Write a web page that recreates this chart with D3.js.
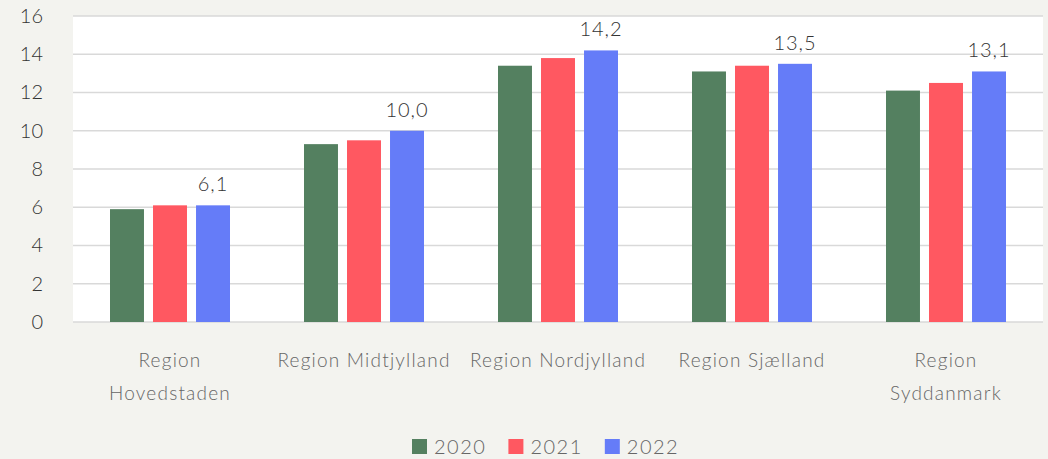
<!DOCTYPE html>
<html>
<head>
<meta charset="utf-8">
<script src="https://cdnjs.cloudflare.com/ajax/libs/d3/7.8.5/d3.min.js"></script>
<style>
  html, body { margin: 0; padding: 0; background: #f3f3ef; }
  svg { display: block; font-family: Lato, "Open Sans", sans-serif; }
</style>
</head>
<body>
<script>
// chart data
const regions = ["Region Hovedstaden", "Region Midtjylland", "Region Nordjylland", "Region Sjælland", "Region Syddanmark"];
const years = ["2020", "2021", "2022"];
const v2020 = [5.9, 9.3, 13.4, 13.1, 12.1];
const v2021 = [6.1, 9.5, 13.8, 13.4, 12.5];
const v2022 = [6.1, 10.0, 14.2, 13.5, 13.1];
const yTicks = [0, 2, 4, 6, 8, 10, 12, 14, 16];
// labels that Excel wrapped onto two lines
const wrapped = ["Region Hovedstaden", "Region Syddanmark"];

const colors = ["#548060", "#ff5861", "#657cf8"];
const series = [v2020, v2021, v2022];

const w = 1048, h = 459;
const padL = 73, padR = 1043, padT = 16, padB = 322;

const svg = d3.select("body").append("svg")
  .attr("width", w)
  .attr("height", h);

// white plot area
svg.append("rect")
  .attr("x", padL).attr("y", padT)
  .attr("width", padR - padL).attr("height", padB - padT)
  .attr("fill", "#ffffff");

const x0 = d3.scaleBand().domain(regions).range([padL, padR]);
const x1 = d3.scaleBand().domain(years).range([37, 194 - 37]).paddingInner(0.21);
const y = d3.scaleLinear().domain([0, 16]).range([padB, padT]);

// gridlines
svg.append("g")
  .selectAll("line")
  .data(yTicks)
  .enter()
  .append("line")
  .attr("x1", padL).attr("x2", padR)
  .attr("y1", d => y(d)).attr("y2", d => y(d))
  .attr("stroke", "#d9d9d9")
  .attr("stroke-width", 1.5);

// y axis labels
const yAxis = d3.axisLeft(y).tickValues(yTicks).tickSize(0).tickPadding(0);
svg.append("g")
  .attr("transform", "translate(43,0)")
  .call(yAxis)
  .call(g => g.select(".domain").remove())
  .call(g => g.selectAll("text")
    .attr("font-size", 20)
    .attr("font-family", "Lato, sans-serif")
    .attr("font-weight", 300)
    .attr("fill", "#333"));

// bars
const groups = svg.append("g")
  .selectAll("g")
  .data(regions)
  .enter()
  .append("g")
  .attr("transform", d => "translate(" + x0(d) + ",0)");

groups.selectAll("rect")
  .data((d, i) => years.map((yr, j) => ({ yr: yr, v: series[j][i], c: colors[j] })))
  .enter()
  .append("rect")
  .attr("x", d => x1(d.yr))
  .attr("width", x1.bandwidth())
  .attr("y", d => y(d.v))
  .attr("height", d => padB - y(d.v))
  .attr("fill", d => d.c);

// data labels on 2022 only
const fmt = d3.format(".1f");
groups.append("text")
  .attr("x", (d) => x1("2022") + x1.bandwidth() / 2)
  .attr("y", (d, i) => y(v2022[i]) - 14)
  .attr("text-anchor", "middle")
  .attr("font-size", 20)
  .attr("font-weight", 300)
  .attr("letter-spacing", "1px")
  .attr("fill", "#333")
  .text((d, i) => fmt(v2022[i]).replace(".", ","));

// x labels
const xl = svg.append("g")
  .selectAll("text")
  .data(regions)
  .enter()
  .append("text")
  .attr("x", d => x0(d) + x0.bandwidth() / 2)
  .attr("y", 367)
  .attr("text-anchor", "middle")
  .attr("font-size", 19)
  .attr("font-weight", 300)
  .attr("letter-spacing", "1.2px")
  .attr("fill", "#666");

xl.each(function (d) {
  const t = d3.select(this);
  const lines = wrapped.includes(d) ? d.split(" ") : [d];
  lines.forEach((ln, k) => {
    t.append("tspan")
      .attr("x", x0(d) + x0.bandwidth() / 2)
      .attr("dy", k === 0 ? 0 : 33)
      .text(ln);
  });
});

// legend
const legend = svg.append("g").attr("transform", "translate(412,439)");
let lx = 0;
years.forEach((yr, j) => {
  const item = legend.append("g").attr("transform", "translate(" + lx + ",0)");
  item.append("rect")
    .attr("width", 15).attr("height", 15)
    .attr("fill", colors[j]);
  const t = item.append("text")
    .attr("x", 22)
    .attr("y", 15)
    .attr("font-size", 20)
    .attr("font-weight", 300)
    .attr("letter-spacing", "1.5px")
    .attr("fill", "#666")
    .text(yr);
  lx += 22 + t.node().getComputedTextLength() + 22;
});
</script>
</body>
</html>
